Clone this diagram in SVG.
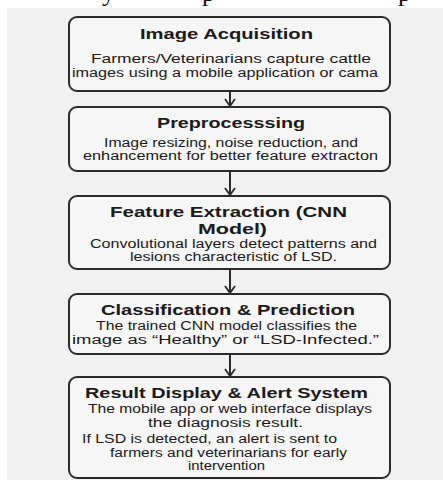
<svg xmlns="http://www.w3.org/2000/svg" width="443" height="480" viewBox="0 0 443 480">
<style>
.box{fill:#f6f6f6;stroke:#2b2b2b;stroke-width:2}
.t{font-family:"Liberation Sans",Arial,sans-serif;font-weight:bold;font-size:15px;fill:#1a1a1a}
.b{font-family:"Liberation Sans",Arial,sans-serif;font-size:12px;fill:#1a1a1a}
.frag{font-family:"Liberation Serif","Times New Roman",serif;font-size:26px;fill:#111}
.conn{stroke:#2b2b2b;stroke-width:2;fill:none}
</style>
<defs>
<marker id="arr" viewBox="0 0 10 12" refX="9" refY="6" markerWidth="10" markerHeight="12" markerUnits="userSpaceOnUse" orient="auto">
<path d="M2 1 L9 6 L2 11" fill="none" stroke="#2b2b2b" stroke-width="1.8"/>
</marker>
</defs>
<rect x="0" y="0" width="443" height="480" fill="#ffffff"/>
<rect x="7" y="8" width="436" height="472" fill="#f1f1f1"/>
<text class="frag" x="102" y="1">y</text>
<text class="frag" x="202" y="1">p</text>
<text class="frag" x="398" y="1">p</text>

<g id="connectors">
<line class="conn" x1="230" y1="91" x2="230" y2="106" marker-end="url(#arr)"/>
<line class="conn" x1="230" y1="171" x2="230" y2="195" marker-end="url(#arr)"/>
<line class="conn" x1="230" y1="269" x2="230" y2="293" marker-end="url(#arr)"/>
<line class="conn" x1="230" y1="354" x2="230" y2="376" marker-end="url(#arr)"/>
</g>

<g id="node1">
<rect class="box" x="69" y="17" width="321" height="74" rx="8"/>
<text class="t" x="140" y="39" textLength="173" lengthAdjust="spacingAndGlyphs">Image Acquisition</text>
<text class="b" x="91" y="63" textLength="280" lengthAdjust="spacingAndGlyphs">Farmers/Veterinarians capture cattle</text>
<text class="b" x="72" y="77" textLength="306" lengthAdjust="spacingAndGlyphs">images using a mobile application or cama</text>
</g>

<g id="node2">
<rect class="box" x="69" y="107" width="321" height="64" rx="8"/>
<text class="t" x="157" y="128" textLength="148" lengthAdjust="spacingAndGlyphs">Preprocesssing</text>
<text class="b" x="104" y="147" textLength="254" lengthAdjust="spacingAndGlyphs">Image resizing, noise reduction, and</text>
<text class="b" x="83" y="160" textLength="295" lengthAdjust="spacingAndGlyphs">enhancement for better feature extracton</text>
</g>

<g id="node3">
<rect class="box" x="69" y="196" width="321" height="73" rx="8"/>
<text class="t" x="110" y="217" textLength="237" lengthAdjust="spacingAndGlyphs">Feature Extraction (CNN</text>
<text class="t" x="198" y="234" textLength="69" lengthAdjust="spacingAndGlyphs">Model)</text>
<text class="b" x="90" y="248" textLength="287" lengthAdjust="spacingAndGlyphs">Convolutional layers detect patterns and</text>
<text class="b" x="130" y="261" textLength="207" lengthAdjust="spacingAndGlyphs">lesions characteristic of LSD.</text>
</g>

<g id="node4">
<rect class="box" x="69" y="294" width="321" height="60" rx="8"/>
<text class="t" x="101" y="315" textLength="254" lengthAdjust="spacingAndGlyphs">Classification &amp; Prediction</text>
<text class="b" x="96" y="330" textLength="261" lengthAdjust="spacingAndGlyphs">The trained CNN model classifies the</text>
<text class="b" x="72" y="344" textLength="307" lengthAdjust="spacingAndGlyphs">image as “Healthy” or “LSD-Infected.”</text>
</g>

<g id="node5">
<rect class="box" x="69" y="377" width="321" height="101" rx="8"/>
<text class="t" x="85" y="398" textLength="283" lengthAdjust="spacingAndGlyphs">Result Display &amp; Alert System</text>
<text class="b" x="88" y="413" textLength="284" lengthAdjust="spacingAndGlyphs">The mobile app or web interface displays</text>
<text class="b" x="148" y="427" textLength="155" lengthAdjust="spacingAndGlyphs">the diagnosis result.</text>
<text class="b" x="82" y="443" textLength="255" lengthAdjust="spacingAndGlyphs">If LSD is detected, an alert is sent to</text>
<text class="b" x="110" y="457" textLength="237" lengthAdjust="spacingAndGlyphs">farmers and veterinarians for early</text>
<text class="b" x="188" y="470" textLength="77" lengthAdjust="spacingAndGlyphs">intervention</text>
</g>
</svg>
